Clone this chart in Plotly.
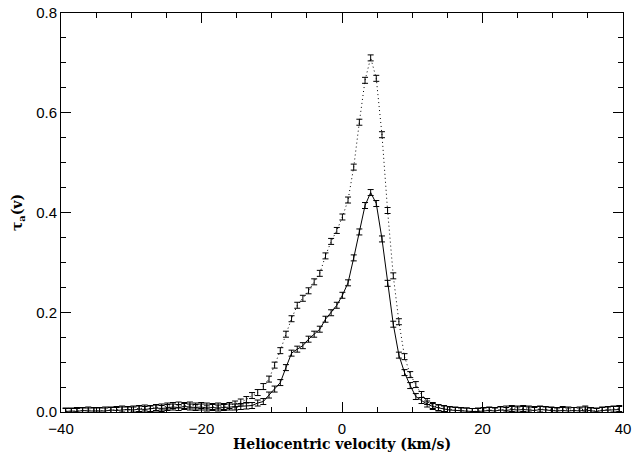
import plotly.graph_objects as go

velocity = [
    -39.34, -38.53, -37.73, -36.92, -36.12, -35.32, -34.51, -33.71, -32.90, -32.10,
    -31.30, -30.49, -29.69, -28.88, -28.08, -27.28, -26.48, -25.67, -24.86, -24.06,
    -23.26, -22.45, -21.65, -20.84, -20.04, -19.24, -18.43, -17.63, -16.82, -16.02,
    -15.22, -14.41, -13.61, -12.80, -12.00, -11.20, -10.39, -9.59, -8.78, -7.98,
    -7.18, -6.37, -5.57, -4.76, -3.96, -3.16, -2.35, -1.55, -0.74, 0.06,
    0.86, 1.67, 2.47, 3.28, 4.08, 4.88, 5.69, 6.49, 7.30, 8.10,
    8.90, 9.71, 10.51, 11.32, 12.12, 12.92, 13.73, 14.53, 15.34, 16.14,
    16.94, 17.75, 18.55, 19.36, 20.16, 20.96, 21.77, 22.57, 23.38, 24.18,
    24.98, 25.79, 26.59, 27.40, 28.20, 29.00, 29.81, 30.61, 31.42, 32.22,
    33.02, 33.83, 34.63, 35.44, 36.24, 37.04, 37.85, 38.65, 39.46,
]

tau_dotted = [
    0.002, 0.001, 0.003, 0.002, 0.004, 0.003, 0.002, 0.004, 0.003, 0.005,
    0.006, 0.004, 0.006, 0.007, 0.008, 0.007, 0.009, 0.010, 0.012, 0.013,
    0.014, 0.013, 0.014, 0.012, 0.013, 0.012, 0.011, 0.012, 0.011, 0.013,
    0.016, 0.020, 0.025, 0.033, 0.039, 0.051, 0.066, 0.094, 0.123, 0.156,
    0.187, 0.214, 0.228, 0.243, 0.261, 0.278, 0.313, 0.342, 0.364, 0.391,
    0.425, 0.491, 0.581, 0.665, 0.710, 0.669, 0.556, 0.404, 0.273, 0.181,
    0.111, 0.075, 0.055, 0.035, 0.021, 0.013, 0.009, 0.007, 0.005, 0.004,
    0.003, 0.002, 0.001, 0.002, 0.003, 0.004, 0.003, 0.005, 0.006, 0.007,
    0.006, 0.007, 0.006, 0.005, 0.006, 0.005, 0.004, 0.003, 0.005, 0.004,
    0.003, 0.004, 0.006, 0.003, 0.002, 0.004, 0.005, 0.006, 0.007,
]

tau_solid = [
    0.001, 0.002, 0.001, 0.003, 0.002, 0.002, 0.003, 0.002, 0.004, 0.003,
    0.004, 0.005, 0.004, 0.006, 0.005, 0.006, 0.008, 0.007, 0.009, 0.010,
    0.009, 0.011, 0.010, 0.009, 0.010, 0.008, 0.009, 0.008, 0.009, 0.010,
    0.010, 0.011, 0.012, 0.013, 0.018, 0.021, 0.034, 0.046, 0.059, 0.089,
    0.118, 0.126, 0.133, 0.146, 0.156, 0.166, 0.186, 0.199, 0.214, 0.234,
    0.259, 0.309, 0.361, 0.414, 0.440, 0.418, 0.347, 0.258, 0.176, 0.114,
    0.079, 0.053, 0.031, 0.023, 0.016, 0.011, 0.008, 0.006, 0.004, 0.003,
    0.002, 0.002, 0.001, 0.001, 0.002, 0.003, 0.002, 0.004, 0.003, 0.005,
    0.004, 0.005, 0.004, 0.003, 0.005, 0.004, 0.003, 0.002, 0.003, 0.002,
    0.003, 0.002, 0.004, 0.002, 0.001, 0.003, 0.004, 0.005, 0.005,
]

err_dotted = [0.006] * len(velocity)
err_solid = [0.006] * len(velocity)

fig = go.Figure()
fig.add_trace(go.Scatter(
    x=velocity, y=tau_dotted, mode="lines",
    line=dict(color="black", width=1, dash="1px,3px"),
    error_y=dict(type="data", array=err_dotted, visible=True,
                 color="black", thickness=1, width=3),
    showlegend=False,
))
fig.add_trace(go.Scatter(
    x=velocity, y=tau_solid, mode="lines",
    line=dict(color="black", width=1),
    error_y=dict(type="data", array=err_solid, visible=True,
                 color="black", thickness=1, width=3),
    showlegend=False,
))

axis_common = dict(
    showline=True, linecolor="black", linewidth=1, mirror="ticks",
    ticks="inside", ticklen=10, tickwidth=1, tickcolor="black",
    showgrid=False, zeroline=False, automargin=False,
    tickfont=dict(family="Liberation Sans, Arial, sans-serif", size=15, color="black"),
)

fig.update_xaxes(
    range=[-40, 40], tickmode="array", tickvals=[-40, -20, 0, 20, 40],
    ticklabelstandoff=3,
    minor=dict(ticks="inside", ticklen=5, tickwidth=1, tickcolor="black", dtick=5, tick0=0),
    **axis_common,
)
fig.update_yaxes(
    range=[0, 0.8], tickmode="array", tickvals=[0, 0.2, 0.4, 0.6, 0.8],
    ticktext=["0.0", "0.2", "0.4", "0.6", "0.8"],
    minor=dict(ticks="inside", ticklen=5, tickwidth=1, tickcolor="black", dtick=0.05, tick0=0),
    title=dict(text="τ<sub>a</sub>(v)",
               font=dict(family="DejaVu Serif", size=14, color="black", weight="bold"),
               standoff=10),
    **axis_common,
)

fig.add_annotation(
    text="Heliocentric velocity (km/s)",
    xref="paper", yref="paper", x=0.5, y=0,
    xanchor="center", yanchor="middle", yshift=-32, showarrow=False,
    font=dict(family="DejaVu Serif", size=14, color="black", weight="bold"),
)

fig.update_layout(
    width=636, height=455,
    margin=dict(l=61, r=13, t=13, b=43),
    plot_bgcolor="white", paper_bgcolor="white",
)

fig.write_html("out.html")
